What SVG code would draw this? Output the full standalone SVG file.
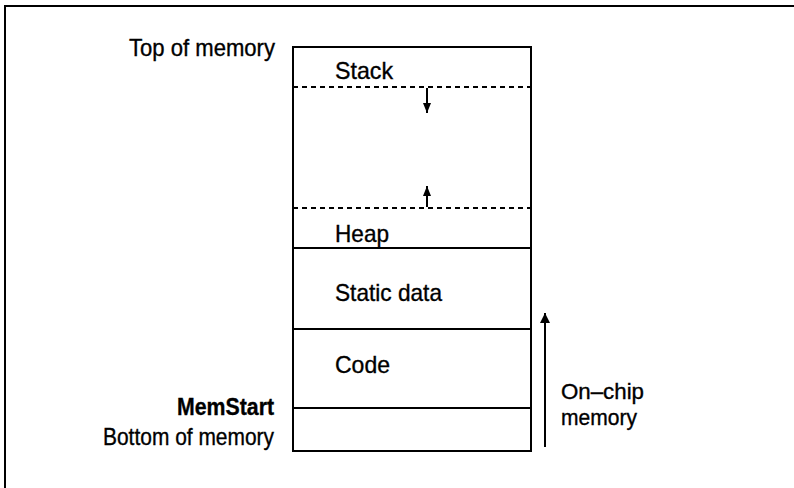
<svg xmlns="http://www.w3.org/2000/svg" width="794" height="488" viewBox="0 0 794 488">
<style>
text{font-family:"Liberation Sans",Arial,sans-serif;font-size:24px;fill:#000;stroke:#000;stroke-width:0.35}
.b{font-weight:bold}
.r{text-anchor:end}
.s{font-size:22px}
.ln{stroke:#000;stroke-width:2;fill:none}
.d{stroke:#000;stroke-width:2;stroke-dasharray:5 4;fill:none}
</style>
<defs>
<marker id="ah" viewBox="0 0 10 12" refX="10" refY="5" markerWidth="10" markerHeight="12" markerUnits="userSpaceOnUse" orient="auto">
<path d="M0,0 L10,5 L0,10 Z" fill="#000"/>
</marker>
<marker id="ahs" viewBox="0 0 10 8" refX="10" refY="4" markerWidth="12" markerHeight="8" markerUnits="userSpaceOnUse" orient="auto">
<path d="M0,0 L10,4 L0,8 Z" fill="#000"/>
</marker>
</defs>
<rect width="794" height="488" fill="#fff"/>
<g id="frame">
<path class="ln" d="M5,488 L5,6 L794,6"/>
</g>
<g id="memory-block">
<rect class="ln" x="293" y="47" width="238" height="404"/>
</g>
<g id="stack"><text x="335" y="79" textLength="58" lengthAdjust="spacingAndGlyphs">Stack</text></g>
<g id="heap"><text x="335" y="242" textLength="54" lengthAdjust="spacingAndGlyphs">Heap</text></g>
<g id="static-data"><text x="335" y="301" textLength="107" lengthAdjust="spacingAndGlyphs">Static data</text></g>
<g id="code"><text x="335" y="373" textLength="55" lengthAdjust="spacingAndGlyphs">Code</text></g>
<g id="labels">
<text class="r" x="275" y="56" textLength="146" lengthAdjust="spacingAndGlyphs">Top of memory</text>
<text class="r b" x="274" y="415" textLength="97" lengthAdjust="spacingAndGlyphs">MemStart</text>
<text class="r" x="274" y="445" textLength="171" lengthAdjust="spacingAndGlyphs">Bottom of memory</text>
<text class="s" x="561" y="399" textLength="83" lengthAdjust="spacingAndGlyphs">On–chip</text>
<text class="s" x="561" y="425" textLength="76" lengthAdjust="spacingAndGlyphs">memory</text>
</g>
<g id="connectors">
<line class="d" x1="293" y1="87" x2="531" y2="87"/>
<line class="d" x1="293" y1="208" x2="531" y2="208"/>
<line class="ln" x1="293" y1="248" x2="531" y2="248"/>
<line class="ln" x1="293" y1="329" x2="531" y2="329"/>
<line class="ln" x1="293" y1="408" x2="531" y2="408"/>
<line class="ln" x1="427" y1="88" x2="427" y2="113" marker-end="url(#ahs)"/>
<line class="ln" x1="427" y1="207" x2="427" y2="186" marker-end="url(#ahs)"/>
<line class="ln" x1="545" y1="447" x2="545" y2="313" marker-end="url(#ah)"/>
</g>
</svg>
